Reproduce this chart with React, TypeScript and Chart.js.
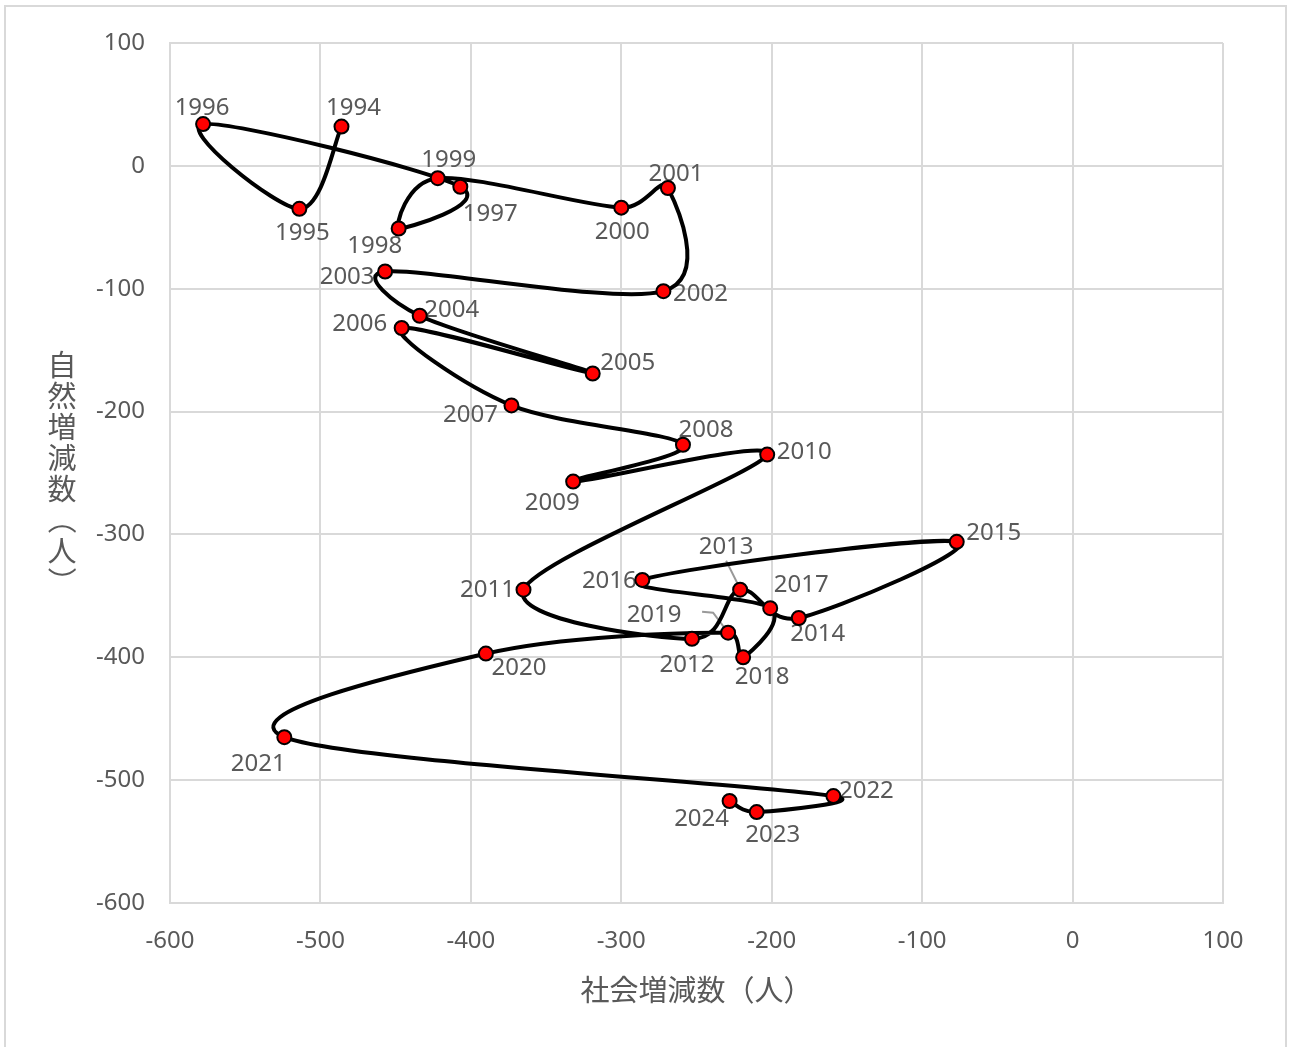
import React, { useEffect, useRef } from "react";
import { Chart, registerables } from "chart.js";

Chart.register(...registerables);

// Year of each observation (points are joined in this order)
const years = [
  1994, 1995, 1996, 1997, 1998, 1999, 2000, 2001, 2002, 2003, 2004,
  2005, 2006, 2007, 2008, 2009, 2010, 2011, 2012, 2013, 2014, 2015,
  2016, 2017, 2018, 2019, 2020, 2021, 2022, 2023, 2024,
];

// 社会増減数（人） — horizontal axis
const socialChange = [
  -486, -514, -578, -407, -448, -422, -300, -269, -272, -457, -434,
  -319, -446, -373, -259, -332, -203, -365, -253, -221, -182, -77,
  -286, -201, -219, -229, -390, -524, -159, -210, -228,
];

// 自然増減数（人） — vertical axis
const naturalChange = [
  32, -35, 34, -17, -51, -10, -34, -18, -102, -86, -122,
  -169, -132, -195, -227, -257, -235, -345, -385, -345, -368, -306,
  -337, -360, -400, -380, -397, -465, -513, -526, -517,
];

const axisMin = -600;
const axisMax = 100;
const axisStep = 100;

const xTitle = "社会増減数（人）";
const yTitle = "自然増減数（人）";

// Where each year label sits relative to its point (px)
const labelOffsets: [number, number][] = [
  [12, -20], [3, 22], [-1, -18], [30, 25], [-24, 16], [11, -20], [1, 23],
  [8, -16], [37, 1], [-38, 4], [32, -8], [35, -12], [-42, -6], [-41, 8],
  [23, -17], [-21, 20], [37, -4], [-36, -2], [-5, 24], [-14, -45], [19, 14],
  [37, -11], [-33, -1], [31, -25], [19, 18], [-74, -20], [33, 13], [-26, 25],
  [33, -7], [16, 21], [-28, 16],
];

// Leader lines for labels pulled away from crowded points (px, relative to point)
const leaderLines: Record<number, [number, number][]> = {
  2013: [[-14, -29], [-2, -5]],
  2019: [[-26, -21], [-15, -20], [-3, -4]],
};

const TEXT = "#595959";
const GRID = "#d9d9d9";
const NUM_FONT = '24px "Noto Sans", "DejaVu Sans", sans-serif';
const JP_FONT = '29px "Noto Sans CJK JP", sans-serif';
const LABEL_BASELINE_SHIFT = 2;

// Smoothed line: cubic Bezier with tangent (next - prev) / 6,
// each control arm limited to half of its segment.
const smoothCurve = {
  id: "smoothCurve",
  beforeDatasetDraw(chart: any, args: any) {
    const meta = args.meta;
    const pts = meta.data;
    const n = pts.length;
    const f = 1 / 6;
    for (let i = 0; i < n; i++) {
      const p = pts[i];
      const prev = pts[Math.max(i - 1, 0)];
      const next = pts[Math.min(i + 1, n - 1)];
      const tx = (next.x - prev.x) * f;
      const ty = (next.y - prev.y) * f;
      const len = Math.hypot(tx, ty) || 1;
      // incoming arm (segment prev -> p)
      const dIn = Math.hypot(p.x - prev.x, p.y - prev.y) / 2;
      const kIn = Math.min(1, dIn / len);
      p.cp1x = p.x - tx * kIn;
      p.cp1y = p.y - ty * kIn;
      // outgoing arm (segment p -> next)
      const dOut = Math.hypot(next.x - p.x, next.y - p.y) / 2;
      const kOut = Math.min(1, dOut / len);
      p.cp2x = p.x + tx * kOut;
      p.cp2y = p.y + ty * kOut;
    }
    meta.dataset._pointsUpdated = true;
    meta.dataset._path = undefined;
  },
};

const yearLabels = {
  id: "yearLabels",
  beforeDatasetsDraw(chart: any) {
    const { ctx } = chart;
    const meta = chart.getDatasetMeta(0);
    ctx.save();
    ctx.strokeStyle = "#999999";
    ctx.lineWidth = 2;
    meta.data.forEach((pt: any, i: number) => {
      const path = leaderLines[years[i]];
      if (!path) return;
      ctx.beginPath();
      path.forEach(([dx, dy], k) => {
        if (k === 0) ctx.moveTo(pt.x + dx, pt.y + dy);
        else ctx.lineTo(pt.x + dx, pt.y + dy);
      });
      ctx.stroke();
    });
    ctx.font = NUM_FONT;
    ctx.fillStyle = TEXT;
    ctx.textAlign = "center";
    ctx.textBaseline = "middle";
    meta.data.forEach((pt: any, i: number) => {
      const [dx, dy] = labelOffsets[i];
      ctx.fillText(String(years[i]), pt.x + dx, pt.y + dy + LABEL_BASELINE_SHIFT);
    });
    ctx.restore();
  },
};

const axisTitles = {
  id: "axisTitles",
  afterDraw(chart: any) {
    const { ctx, chartArea } = chart;
    ctx.save();
    ctx.font = JP_FONT;
    ctx.fillStyle = TEXT;
    ctx.textAlign = "center";
    ctx.textBaseline = "middle";
    // horizontal title under the x ticks
    ctx.fillText(xTitle, (chartArea.left + chartArea.right) / 2, 990);
    // vertical title, characters stacked top to bottom
    const chars = Array.from(yTitle);
    const step = 31;
    const cx = 62;
    const midY = (chartArea.top + chartArea.bottom) / 2;
    const startY = midY - ((chars.length - 1) * step) / 2;
    chars.forEach((ch, i) => {
      const cy = startY + i * step;
      if (ch === "（" || ch === "）") {
        ctx.save();
        ctx.translate(cx, cy);
        ctx.rotate(Math.PI / 2);
        ctx.fillText(ch, 0, 0);
        ctx.restore();
      } else {
        ctx.fillText(ch, cx, cy);
      }
    });
    ctx.restore();
  },
};

export default function App() {
  const canvasRef = useRef<HTMLCanvasElement | null>(null);

  useEffect(() => {
    if (!canvasRef.current) return;
    const points = years.map((_, i) => ({ x: socialChange[i], y: naturalChange[i] }));
    const chart = new Chart(canvasRef.current, {
      type: "scatter",
      data: {
        datasets: [
          {
            data: points,
            showLine: true,
            borderColor: "#000000",
            borderWidth: 4,
            tension: 0.4,
            pointRadius: 7,
            pointBorderWidth: 2,
            pointBackgroundColor: "#ff0000",
            pointBorderColor: "#000000",
          },
        ],
      },
      options: {
        responsive: false,
        maintainAspectRatio: false,
        devicePixelRatio: 1,
        animation: false,
        layout: { padding: { left: 0, right: 67, top: 43, bottom: 0 } },
        plugins: {
          legend: { display: false },
          tooltip: { enabled: false },
        },
        scales: {
          x: {
            type: "linear",
            min: axisMin,
            max: axisMax,
            ticks: { stepSize: axisStep, color: TEXT, font: { family: '"Noto Sans"', size: 24 }, padding: 24 },
            grid: { color: GRID, lineWidth: 2, drawTicks: false },
            border: { color: GRID, width: 2 },
            afterFit: (s: any) => { s.height = 144; },
          },
          y: {
            type: "linear",
            min: axisMin,
            max: axisMax,
            ticks: { stepSize: axisStep, color: TEXT, font: { family: '"Noto Sans"', size: 24 }, padding: 25 },
            grid: { color: GRID, lineWidth: 2, drawTicks: false },
            border: { color: GRID, width: 2 },
            afterFit: (s: any) => { s.width = 170; },
          },
        },
      },
      plugins: [smoothCurve, yearLabels, axisTitles],
    });
    return () => chart.destroy();
  }, []);

  return (
    <div
      style={{
        position: "absolute",
        left: 0,
        top: 0,
        width: 1290,
        height: 1047,
        overflow: "hidden",
        background: "#ffffff",
      }}
    >
      <div
        style={{
          position: "absolute",
          left: 4,
          top: 5,
          width: 1283,
          height: 1070,
          border: `2px solid ${GRID}`,
          boxSizing: "border-box",
        }}
      />
      <canvas
        ref={canvasRef}
        width={1290}
        height={1047}
        style={{ position: "absolute", left: 0, top: 0, width: 1290, height: 1047 }}
      />
    </div>
  );
}
